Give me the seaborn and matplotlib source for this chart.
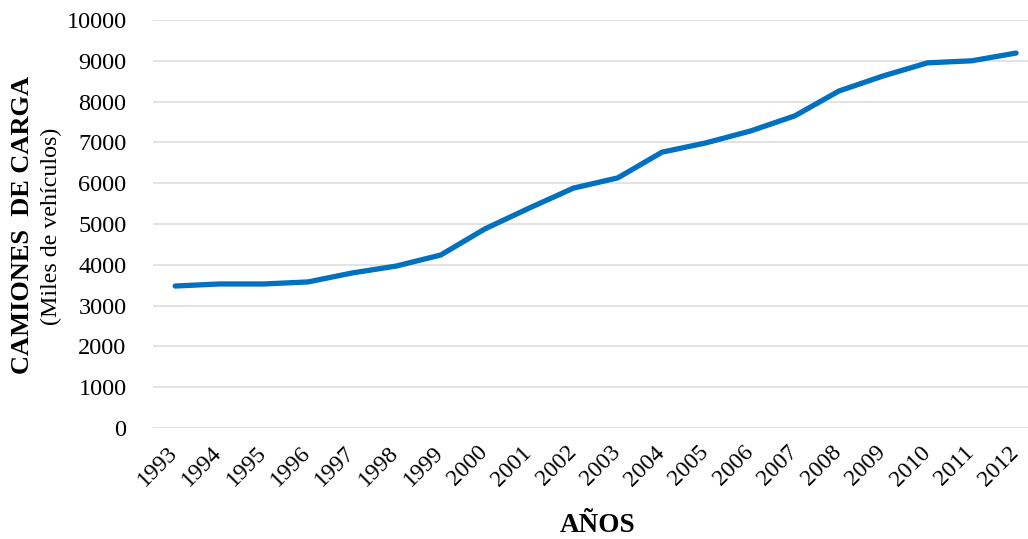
import numpy as np
import pandas as pd
import matplotlib
matplotlib.use('Agg')
import matplotlib.pyplot as plt
import matplotlib.transforms as mtransforms
import seaborn as sns

years = list(range(1993, 2013))
camiones = [3480, 3530, 3530, 3580, 3800, 3970, 4240, 4880, 5390, 5880,
            6130, 6760, 6990, 7280, 7650, 8260, 8630, 8950, 9000, 9190]
y_ticks = list(range(0, 10001, 1000))

df = pd.DataFrame({'anio': years, 'camiones': camiones})

sns.set_style('white')
plt.rcParams['font.family'] = ['Liberation Serif', 'DejaVu Serif']
plt.rcParams['text.color'] = 'black'
plt.rcParams['xtick.color'] = 'black'
plt.rcParams['ytick.color'] = 'black'

fig = plt.figure(figsize=(10.28, 5.39), dpi=100)
ax = fig.add_axes([153 / 1028, 1 - 428 / 539, 1 - 153 / 1028, (428 - 20) / 539])

sns.lineplot(data=df, x='anio', y='camiones', ax=ax, color='#0070C0',
             linewidth=3.8, solid_capstyle='round')

ax.set_xlim(1992.5, 2012.27)
ax.set_ylim(0, 10000)
ax.set_yticks(y_ticks)
ax.set_yticklabels([str(v) for v in y_ticks], fontsize=17.5)
ax.set_xticks(years)
ax.set_xticklabels([str(y) for y in years], fontsize=17, rotation=45,
                   ha='right', rotation_mode='anchor')
ax.tick_params(axis='both', length=0)
ax.tick_params(axis='y', pad=19)
ax.tick_params(axis='x', pad=5)

# mover las etiquetas del eje x un poco a la izquierda y abajo
offset = mtransforms.ScaledTranslation(-8 / 100, -7 / 100, fig.dpi_scale_trans)
for lbl in ax.get_xticklabels():
    lbl.set_transform(lbl.get_transform() + offset)

ax.grid(axis='y', color='#e0e0e0', linewidth=1.3)
ax.set_axisbelow(True)
for s in ax.spines.values():
    s.set_visible(False)

ax.set_xlabel('')
ax.set_ylabel('')
fig.text(598 / 1028, 1 - 525 / 539, 'AÑOS', ha='center', va='center',
         fontsize=19.5, fontweight='bold')
fig.text(23 / 1028, 1 - 225 / 539, 'CAMIONES  DE CARGA', rotation=90,
         ha='center', va='center', fontsize=19, fontweight='bold')
fig.text(51 / 1028, 1 - 226 / 539, '(Miles de vehículos)', rotation=90,
         ha='center', va='center', fontsize=17.3)

fig.savefig('out.png', dpi=100)
